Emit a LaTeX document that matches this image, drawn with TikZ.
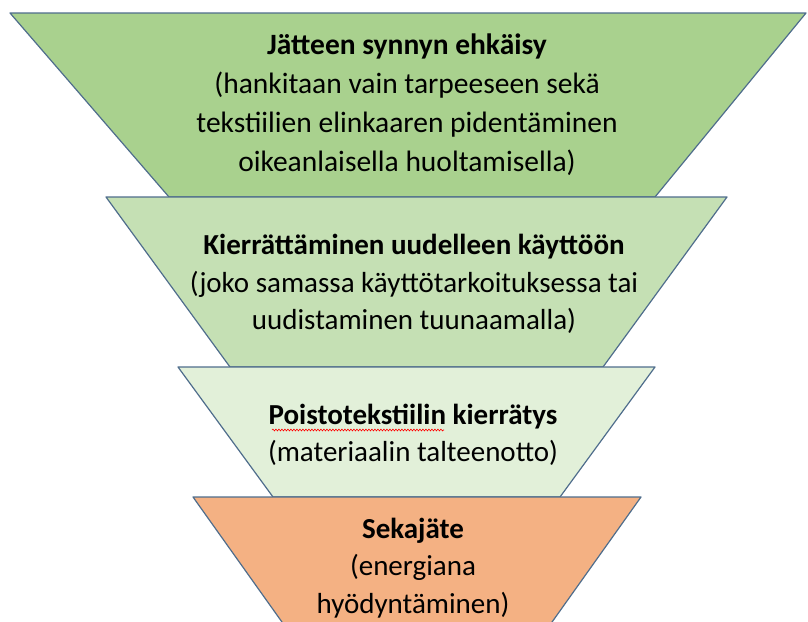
\documentclass[tikz,border=0pt]{standalone}
\usepackage{fontspec}
\setmainfont{Carlito}
\usetikzlibrary{decorations.pathmorphing}

\definecolor{tasoA}{HTML}{A9D18E}
\definecolor{tasoB}{HTML}{C5E0B4}
\definecolor{tasoC}{HTML}{E2F0D9}
\definecolor{tasoD}{HTML}{F4B183}
\definecolor{reunaviiva}{HTML}{4F6D8C}

\begin{document}
\begin{tikzpicture}[
        x=1pt, y=-1pt,
        reuna/.style={draw=reunaviiva, line width=1.2pt, line join=round},
        every node/.style={font=\fontsize{29}{37.5}\selectfont, align=center, text=black}
    ]

        \useasboundingbox (0,0) rectangle (808,621);
        \clip (0,0) rectangle (808,621);

        % Taso 1
        \filldraw[reuna, fill=tasoA] (10,13) -- (806,13) -- (655,197) -- (169,197) -- cycle;
        \node[font=\fontsize{29.5}{39}\selectfont] (ehkaisy) at (407,105)
            {\textbf{Jätteen synnyn ehkäisy}\\(hankitaan vain tarpeeseen sekä\\tekstiilien elinkaaren pidentäminen\\oikeanlaisella huoltamisella)};

        % Taso 2
        \filldraw[reuna, fill=tasoB] (106,197) -- (727,197) -- (603,367) -- (230,367) -- cycle;
        \node (kaytto) at (414,284)
            {\textbf{Kierrättäminen uudelleen käyttöön}\\(joko samassa käyttötarkoituksessa tai\\uudistaminen tuunaamalla)};

        % Taso 3
        \filldraw[reuna, fill=tasoC] (178,367) -- (655,367) -- (560,497) -- (273,497) -- cycle;
        \node (kierratys) at (413,435)
            {\textbf{Poistotekstiilin kierrätys}\\(materiaalin talteenotto)};
        \draw[red, line width=0.6pt, decorate,
              decoration={snake, amplitude=0.9pt, segment length=3pt}]
            (272,430) -- (444,430);

        % Taso 4
        \filldraw[reuna, fill=tasoD] (193,497) -- (641,497) -- (525,660) -- (309,660) -- cycle;
        \node (sekajate) at (413,568)
            {\textbf{Sekajäte}\\(energiana\\hyödyntäminen)};

    \end{tikzpicture}
\end{document}
